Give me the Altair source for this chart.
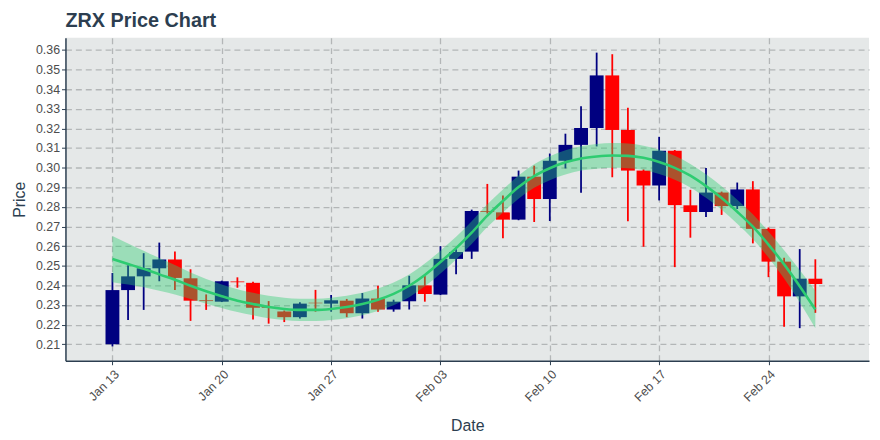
import altair as alt
import pandas as pd

# ---- data ----
dates = pd.date_range("2020-01-13", periods=46, freq="D").strftime("%Y-%m-%d").tolist()

open_ = [0.2100, 0.2376, 0.2446, 0.2487, 0.2532, 0.2436, 0.2324, 0.2317, 0.2420, 0.2413,
         0.2290, 0.2267, 0.2238, 0.2312, 0.2307, 0.2322, 0.2258, 0.2333, 0.2277, 0.2319,
         0.2400, 0.2353, 0.2535, 0.2572, 0.2778, 0.2772, 0.2735, 0.2954, 0.2840, 0.3035,
         0.3116, 0.3202, 0.3470, 0.3192, 0.2985, 0.2909, 0.3086, 0.2808, 0.2774, 0.2873,
         0.2804, 0.2889, 0.2688, 0.2521, 0.2344, 0.2434]
close = [0.2376, 0.2446, 0.2487, 0.2532, 0.2438, 0.2322, 0.2320, 0.2421, 0.2416, 0.2286,
         0.2286, 0.2238, 0.2307, 0.2309, 0.2324, 0.2258, 0.2333, 0.2277, 0.2317, 0.2400,
         0.2356, 0.2535, 0.2570, 0.2779, 0.2774, 0.2735, 0.2954, 0.2840, 0.3035, 0.3116,
         0.3202, 0.3470, 0.3192, 0.2985, 0.2909, 0.3086, 0.2809, 0.2774, 0.2873, 0.2804,
         0.2889, 0.2688, 0.2521, 0.2344, 0.2434, 0.2407]
high = [0.2463, 0.2502, 0.2564, 0.2618, 0.2573, 0.2482, 0.2354, 0.2424, 0.2441, 0.2418,
        0.2320, 0.2272, 0.2314, 0.2377, 0.2351, 0.2331, 0.2361, 0.2398, 0.2327, 0.2449,
        0.2449, 0.2600, 0.2584, 0.2786, 0.2917, 0.2858, 0.2985, 0.3010, 0.3072, 0.3173,
        0.3313, 0.3586, 0.3578, 0.3305, 0.2991, 0.3157, 0.3090, 0.2887, 0.2998, 0.2878,
        0.2924, 0.2931, 0.2695, 0.2541, 0.2585, 0.2533]
low = [0.2089, 0.2224, 0.2275, 0.2421, 0.2376, 0.2219, 0.2275, 0.2315, 0.2388, 0.2226,
       0.2205, 0.2213, 0.2231, 0.2266, 0.2266, 0.2238, 0.2231, 0.2266, 0.2266, 0.2277,
       0.2317, 0.2350, 0.2457, 0.2535, 0.2766, 0.2640, 0.2732, 0.2723, 0.2728, 0.2996,
       0.2872, 0.3108, 0.2951, 0.2727, 0.2597, 0.2833, 0.2493, 0.2643, 0.2749, 0.2759,
       0.2789, 0.2614, 0.2442, 0.2189, 0.2182, 0.2260]

smooth = [0.2534, 0.2509, 0.2484, 0.2456, 0.2429, 0.2398, 0.2370, 0.2345, 0.2322, 0.2305,
          0.2290, 0.2280, 0.2275, 0.2275, 0.2280, 0.2290, 0.2305, 0.2327, 0.2357, 0.2398,
          0.2453, 0.2519, 0.2590, 0.2669, 0.2755, 0.2830, 0.2901, 0.2957, 0.2997, 0.3027,
          0.3047, 0.3057, 0.3062, 0.3060, 0.3050, 0.3029, 0.2999, 0.2959, 0.2906, 0.2845,
          0.2775, 0.2699, 0.2608, 0.2507, 0.2396, 0.2277]
band_lo = [0.2416, 0.2404, 0.2391, 0.2373, 0.2354, 0.2330, 0.2307, 0.2285, 0.2264, 0.2248,
           0.2233, 0.2223, 0.2218, 0.2218, 0.2223, 0.2233, 0.2248, 0.2270, 0.2299, 0.2340,
           0.2395, 0.2461, 0.2532, 0.2611, 0.2697, 0.2772, 0.2842, 0.2897, 0.2936, 0.2965,
           0.2985, 0.2994, 0.2999, 0.2997, 0.2988, 0.2967, 0.2938, 0.2899, 0.2846, 0.2785,
           0.2714, 0.2636, 0.2542, 0.2435, 0.2314, 0.2182]
band_hi = [0.2652, 0.2614, 0.2577, 0.2539, 0.2504, 0.2466, 0.2433, 0.2405, 0.2380, 0.2362,
           0.2347, 0.2337, 0.2332, 0.2332, 0.2337, 0.2347, 0.2362, 0.2384, 0.2415, 0.2456,
           0.2511, 0.2577, 0.2648, 0.2727, 0.2813, 0.2888, 0.2960, 0.3017, 0.3058, 0.3089,
           0.3109, 0.3120, 0.3125, 0.3123, 0.3112, 0.3091, 0.3060, 0.3019, 0.2966, 0.2905,
           0.2836, 0.2762, 0.2674, 0.2579, 0.2478, 0.2372]

tick_dates = ["2020-01-13", "2020-01-20", "2020-01-27", "2020-02-03",
              "2020-02-10", "2020-02-17", "2020-02-24"]
y_ticks = [0.21, 0.22, 0.23, 0.24, 0.25, 0.26, 0.27, 0.28, 0.29, 0.30,
           0.31, 0.32, 0.33, 0.34, 0.35, 0.36]

# ---- table ----
df = pd.DataFrame({
    "date": dates, "open": open_, "close": close, "high": high, "low": low,
    "smooth": smooth, "lo": band_lo, "hi": band_hi,
})
df["dir"] = ["up" if c >= o else "down" for o, c in zip(open_, close)]

DAY = 86400000
def ms(d):
    return int(pd.Timestamp(d, tz="UTC").value // 10**6)

t0 = ms("2020-01-13")
x_domain = [t0 - int(2.69 * DAY), t0 + int(48.12 * DAY)]
tick_ms = [ms(d) for d in tick_dates]

FONT = "Liberation Sans"
DARK = "#2C3E50"

xaxis = alt.Axis(values=tick_ms, labelExpr="utcFormat(datum.value, '%b %d')",
                 labelAngle=315, labelAlign="right", labelBaseline="top",
                 labelOverlap=False, titlePadding=14, title="Date", labelPadding=3)
xscale = alt.Scale(type="utc", domain=x_domain, nice=False)
yscale = alt.Scale(domain=[0.2016, 0.3662], nice=False, zero=False)
yaxis = alt.Axis(values=y_ticks, format=".2f", title="Price", titlePadding=8,
                 labelOverlap=False, tickCount=16)

def X():
    return alt.X("date:T", scale=xscale, axis=xaxis)

def Y(field):
    return alt.Y(field, scale=yscale, axis=yaxis)

color = alt.Color("dir:N", scale=alt.Scale(domain=["up", "down"], range=["#000080", "#FF0000"]),
                  legend=None)

base = alt.Chart(df)
wick = base.mark_rule(strokeWidth=1.8).encode(
    x=X(), y=Y("low:Q"), y2="high:Q", color=color)
body = base.mark_bar(size=14).encode(
    x=X(), y=Y("open:Q"), y2="close:Q", color=color)
ribbon = base.mark_area(color="#2ECC71", opacity=0.4, interpolate="monotone").encode(
    x=X(), y=Y("lo:Q"), y2="hi:Q")
line = base.mark_line(color="#2ECC71", strokeWidth=2.6, interpolate="monotone").encode(
    x=X(), y=Y("smooth:Q"))

chart = alt.layer(wick, body, ribbon, line).properties(
    width=811,
    height=326,
    autosize=alt.AutoSizeParams(type="none"),
    padding={"left": 58, "top": 28, "right": 3, "bottom": 78},
    title=alt.TitleParams("ZRX Price Chart", anchor="start", frame="group", fontSize=20,
                          fontWeight="bold", color=DARK, font=FONT, offset=7),
).configure_view(
    fill="#E5E8E8", stroke=None
).configure_axis(
    labelFont=FONT, titleFont=FONT, labelFontSize=12.5, titleFontSize=16,
    labelColor="#4D4D4D", titleColor=DARK, titleFontWeight="normal",
    domainColor=DARK, domainWidth=1.5, tickColor=DARK, tickSize=4, tickWidth=1,
    gridColor="#B3B6B7", gridDash=[6, 4], gridWidth=1.3, labelPadding=2,
)

chart.save("out.html", embed_options={"renderer": "svg", "actions": False})
